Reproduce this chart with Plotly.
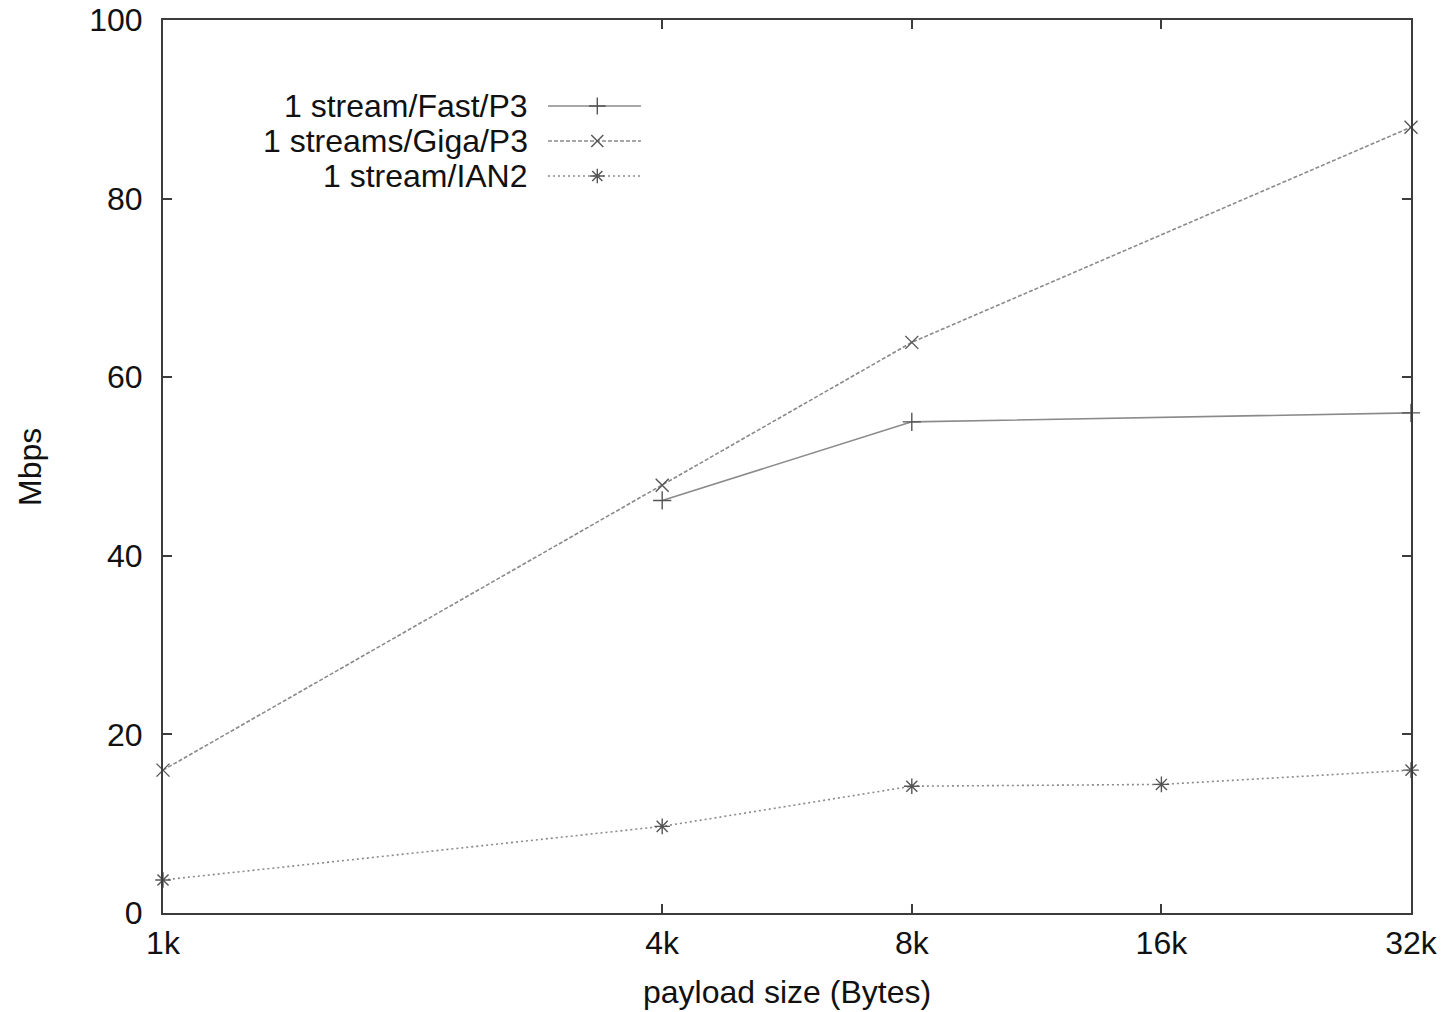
import plotly.graph_objects as go

# ---- data ----
payload_k = [1, 4, 8, 16, 32]
tick_labels = ["1k", "4k", "8k", "16k", "32k"]

fast_x = [4, 8, 32]
fast_y = [46.2, 55.0, 56.0]

giga_x = [1, 4, 8, 32]
giga_y = [16.0, 47.9, 63.9, 88.0]

ian2_x = [1, 4, 8, 16, 32]
ian2_y = [3.7, 9.7, 14.2, 14.4, 16.0]

series_names = ["1 stream/Fast/P3", "1 streams/Giga/P3", "1 stream/IAN2"]

# ---- style ----
FONT = "Liberation Sans, Arial, sans-serif"
FS = 32
AX = "#3c3c3c"
LINE = "#8a8a8a"
MK = "#555555"

styles = [
    dict(dash="solid", symbol="cross-thin"),
    dict(dash="4px,2px", symbol="x-thin"),
    dict(dash="2px,3px", symbol="asterisk-open"),
]

fig = go.Figure()
for (xs, ys), st, name in zip([(fast_x, fast_y), (giga_x, giga_y), (ian2_x, ian2_y)], styles, series_names):
    fig.add_trace(go.Scatter(
        x=xs, y=ys, mode="lines+markers", name=name, showlegend=False,
        line=dict(color=LINE, width=1.6, dash=st["dash"]),
        marker=dict(symbol=st["symbol"], size=13, color=MK, line=dict(color=MK, width=1.4)),
        cliponaxis=False,
    ))

# ---- gnuplot-style key (text left, sample right) on a hidden overlay axis ----
row_y = [0.9037, 0.8645, 0.8253]
for st, name, yy in zip(styles, series_names, row_y):
    fig.add_trace(go.Scatter(
        x=[0.3085, 0.383], y=[yy, yy], mode="lines", xaxis="x2", yaxis="y2",
        showlegend=False, hoverinfo="skip",
        line=dict(color=LINE, width=1.6, dash=st["dash"]),
    ))
    fig.add_trace(go.Scatter(
        x=[0.348], y=[yy], mode="markers", xaxis="x2", yaxis="y2",
        showlegend=False, hoverinfo="skip",
        marker=dict(symbol=st["symbol"], size=12, color=MK, line=dict(color=MK, width=1.4)),
    ))
    fig.add_annotation(x=0.294, y=yy, xref="x2", yref="y2", text=name, showarrow=False,
                       xanchor="right", yanchor="middle",
                       font=dict(family=FONT, size=FS, color="#111"))

fig.update_layout(
    width=1445, height=1012,
    margin=dict(l=163, r=34, t=20, b=99, autoexpand=False),
    paper_bgcolor="white", plot_bgcolor="white",
    font=dict(family=FONT, size=FS, color="#111"),
    xaxis=dict(
        type="log", range=[0, 1.50515], tickvals=payload_k, ticktext=tick_labels,
        showline=True, mirror="ticks", linecolor=AX, linewidth=2,
        ticks="inside", ticklen=9, tickwidth=1.5, tickcolor=AX,
        showgrid=False, zeroline=False, ticklabelstandoff=1, automargin=False,
    ),
    yaxis=dict(
        range=[0, 100], tickvals=[0, 20, 40, 60, 80, 100],
        showline=True, mirror="ticks", linecolor=AX, linewidth=2,
        ticks="inside", ticklen=9, tickwidth=1.5, tickcolor=AX,
        showgrid=False, zeroline=False, ticklabelstandoff=12, automargin=False,
    ),
    xaxis2=dict(overlaying="x", range=[0, 1], visible=False, anchor="y2"),
    yaxis2=dict(overlaying="y", range=[0, 1], visible=False, anchor="x2"),
)

fig.add_annotation(text="Mbps", xref="paper", yref="paper", x=-0.107, y=0.5,
                   textangle=-90, showarrow=False, xanchor="center", yanchor="middle",
                   font=dict(family=FONT, size=FS, color="#111"))
fig.add_annotation(text="payload size (Bytes)", xref="paper", yref="paper", x=0.5, y=-0.0885,
                   showarrow=False, xanchor="center", yanchor="middle",
                   font=dict(family=FONT, size=FS, color="#111"))

fig.write_html("out.html")
